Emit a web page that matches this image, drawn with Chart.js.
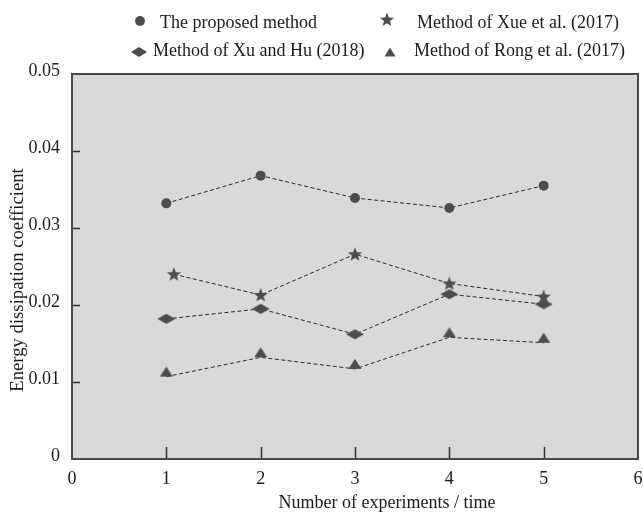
<!DOCTYPE html>
<html>
<head>
<meta charset="utf-8">
<title>Energy dissipation coefficient</title>
<script src="https://cdn.jsdelivr.net/npm/chart.js@4.4.1/dist/chart.umd.min.js"></script>
<style>
    html, body { margin: 0; padding: 0; background: #ffffff; }
    #chartWrap { width: 643px; height: 514px; position: relative; }
</style>
</head>
<body>
<div id="chartWrap">
    <canvas id="energyChart" width="643" height="514"></canvas>
</div>
<script>
// Data
const xTicks = [0, 1, 2, 3, 4, 5, 6];
const yTicks = [0, 0.01, 0.02, 0.03, 0.04, 0.05];
const runs = [1, 2, 3, 4, 5];
const xueRuns = [1.08, 2, 3, 4, 5];
const proposedValues = [0.0332, 0.0368, 0.0339, 0.0326, 0.0355];
const xueValues = [0.0240, 0.0213, 0.0266, 0.0228, 0.0211];
const xuHuValues = [0.0182, 0.0195, 0.0162, 0.0214, 0.0201];
const rongValues = [0.0107, 0.0132, 0.0117, 0.0158, 0.0151];
const seriesLabels = [
    'The proposed method',
    'Method of Xue et al. (2017)',
    'Method of Xu and Hu (2018)',
    'Method of Rong et al. (2017)'
];
const xTitle = 'Number of experiments / time';
const yTitle = 'Energy dissipation coefficient';

const FONT = '"Liberation Serif", "Times New Roman", serif';
const MARK = '#4d4d4d';
const TEXT = '#1a1a1a';

/**
 * Marker paths, centred on (x, y)
 */
function pathStar(ctx, x, y, r) {
    const inner = r * 0.42;
    ctx.beginPath();
    for (let i = 0; i < 10; i++) {
        const rad = i % 2 === 0 ? r : inner;
        const a = -Math.PI / 2 + i * Math.PI / 5;
        const px = x + rad * Math.cos(a);
        const py = y + rad * Math.sin(a);
        if (i === 0) ctx.moveTo(px, py); else ctx.lineTo(px, py);
    }
    ctx.closePath();
}

function pathDiamond(ctx, x, y, hw, hh) {
    ctx.beginPath();
    ctx.moveTo(x - hw, y);
    ctx.lineTo(x, y - hh);
    ctx.lineTo(x + hw, y);
    ctx.lineTo(x, y + hh);
    ctx.closePath();
}

function pathTriangle(ctx, x, top, hw, h) {
    ctx.beginPath();
    ctx.moveTo(x, top);
    ctx.lineTo(x + hw, top + h);
    ctx.lineTo(x - hw, top + h);
    ctx.closePath();
}

/**
 * Build small canvases used as point styles
 */
function makeMarker(w, h, draw) {
    const c = document.createElement('canvas');
    c.width = w;
    c.height = h;
    const g = c.getContext('2d');
    g.fillStyle = MARK;
    draw(g);
    g.fill();
    return c;
}

const starImg = makeMarker(16, 16, g => pathStar(g, 8, 8.5, 7.5));
const diamondImg = makeMarker(20, 12, g => pathDiamond(g, 10, 6, 9, 5));
// triangle sits on top of its value (base at the centre of the image)
const triangleImg = makeMarker(14, 22, g => pathTriangle(g, 7, 1, 6.5, 10));

const toPoints = (xs, ys) => xs.map((x, i) => ({ x: x, y: ys[i] }));

const lineBase = {
    showLine: true,
    borderColor: '#2b2b2b',
    borderWidth: 1,
    borderDash: [4, 2.5],
    tension: 0,
    fill: false,
    pointRadius: 5,
    pointBorderWidth: 0,
    pointBackgroundColor: MARK,
    pointBorderColor: MARK
};

/**
 * Background, frame, inward ticks, titles and legend
 */
const framePlugin = {
    id: 'frame',
    beforeDatasetsDraw(chart) {
        const { ctx, chartArea: a, scales } = chart;
        ctx.save();
        ctx.fillStyle = '#d9d9d9';
        ctx.fillRect(a.left, a.top, a.right - a.left, a.bottom - a.top);

        ctx.strokeStyle = '#333333';
        ctx.lineWidth = 1.5;
        ctx.beginPath();
        xTicks.slice(1, -1).forEach(v => {
            const px = Math.round(scales.x.getPixelForValue(v)) + 0.5;
            ctx.moveTo(px, a.bottom);
            ctx.lineTo(px, a.bottom - 12);
        });
        yTicks.slice(1, -1).forEach(v => {
            const py = Math.round(scales.y.getPixelForValue(v)) + 0.5;
            ctx.moveTo(a.left, py);
            ctx.lineTo(a.left + 8, py);
        });
        ctx.stroke();

        ctx.strokeStyle = '#4a4a4a';
        ctx.lineWidth = 2;
        ctx.strokeRect(a.left, a.top, a.right - a.left, a.bottom - a.top);
        ctx.restore();
    },
    afterDraw(chart) {
        const ctx = chart.ctx;
        ctx.save();
        ctx.fillStyle = TEXT;
        ctx.font = '18px ' + FONT;
        ctx.textBaseline = 'middle';

        // axis titles
        ctx.textAlign = 'center';
        ctx.fillText(xTitle, 387, 503);
        ctx.save();
        ctx.font = '18.7px ' + FONT;
        ctx.translate(18, 280);
        ctx.rotate(-Math.PI / 2);
        ctx.fillText(yTitle, 0, 0);
        ctx.restore();

        // legend
        ctx.textAlign = 'left';
        ctx.fillText(seriesLabels[0], 160, 23);
        ctx.fillText(seriesLabels[1], 417, 23);
        ctx.fillText(seriesLabels[2], 153, 51);
        ctx.fillText(seriesLabels[3], 414, 51);

        ctx.fillStyle = MARK;
        ctx.beginPath();
        ctx.arc(140, 21, 5, 0, Math.PI * 2);
        ctx.fill();
        pathStar(ctx, 387, 20, 7.5);
        ctx.fill();
        pathDiamond(ctx, 139, 52, 8, 5);
        ctx.fill();
        pathTriangle(ctx, 390, 47.5, 5.5, 9);
        ctx.fill();
        ctx.restore();
    }
};

const ctx = document.getElementById('energyChart').getContext('2d');

const chartConfig = {
    type: 'scatter',
    data: {
        datasets: [
            Object.assign({}, lineBase, {
                label: seriesLabels[0],
                data: toPoints(runs, proposedValues),
                pointStyle: 'circle'
            }),
            Object.assign({}, lineBase, {
                label: seriesLabels[1],
                data: toPoints(xueRuns, xueValues),
                pointStyle: starImg
            }),
            Object.assign({}, lineBase, {
                label: seriesLabels[2],
                data: toPoints(runs, xuHuValues),
                pointStyle: diamondImg
            }),
            Object.assign({}, lineBase, {
                label: seriesLabels[3],
                data: toPoints(runs, rongValues),
                pointStyle: triangleImg
            })
        ]
    },
    options: {
        responsive: false,
        animation: false,
        devicePixelRatio: 1,
        layout: {
            padding: { top: 74, right: 1, left: 0, bottom: 0 }
        },
        plugins: {
            legend: { display: false },
            tooltip: { enabled: false }
        },
        scales: {
            x: {
                type: 'linear',
                min: 0,
                max: 6,
                grid: { display: false },
                border: { display: false },
                afterBuildTicks: scale => {
                    scale.ticks = xTicks.map(v => ({ value: v }));
                },
                afterFit: scale => {
                    scale.height = 55;
                    scale.paddingLeft = 0;
                    scale.paddingRight = 0;
                },
                ticks: {
                    color: TEXT,
                    padding: 1,
                    maxRotation: 0,
                    autoSkip: false,
                    font: { family: FONT, size: 18 }
                }
            },
            y: {
                min: 0,
                max: 0.05,
                grid: { display: false },
                border: { display: false },
                afterBuildTicks: scale => {
                    scale.ticks = yTicks.map(v => ({ value: v }));
                },
                afterFit: scale => {
                    scale.width = 72;
                },
                ticks: {
                    color: TEXT,
                    padding: 4,
                    labelOffset: -3,
                    autoSkip: false,
                    font: { family: FONT, size: 18 },
                    callback: v => (v === 0 ? '0' : v.toFixed(2))
                }
            }
        }
    },
    plugins: [framePlugin]
};

const energyChart = new Chart(ctx, chartConfig);
</script>
</body>
</html>
